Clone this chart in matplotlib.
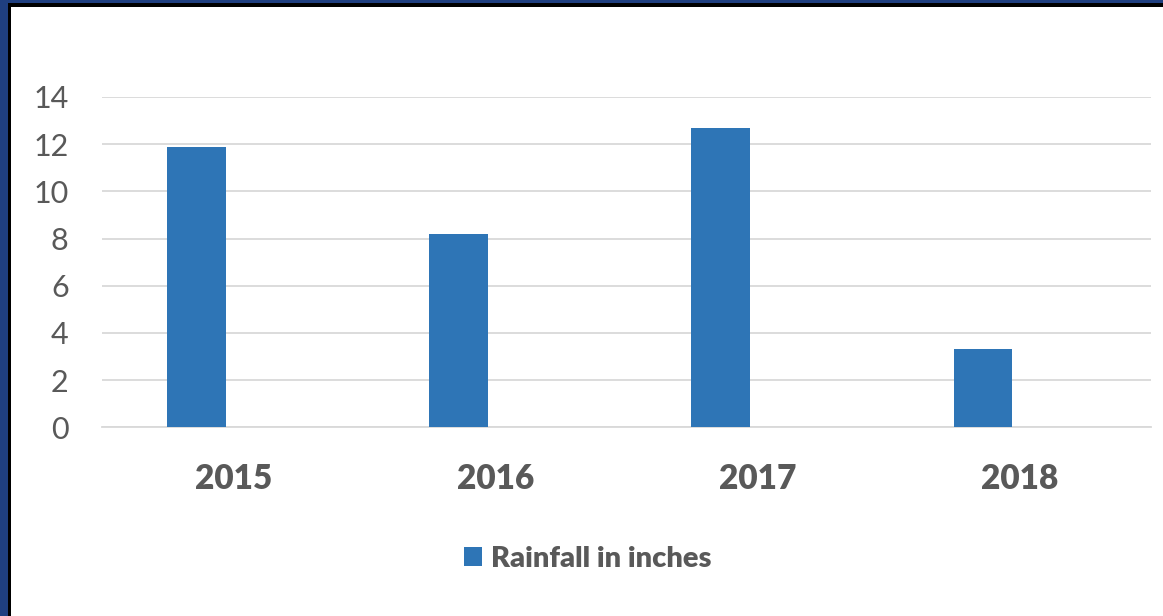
import numpy as np
import matplotlib
matplotlib.use("Agg")
import matplotlib.pyplot as plt
from matplotlib.patches import Rectangle, Patch

# Data
years = ['2015', '2016', '2017', '2018']
rainfall = [11.9, 8.2, 12.7, 3.3]
series_name = 'Rainfall in inches'
y_ticks = [0, 2, 4, 6, 8, 10, 12, 14]

# Style
bar_color = '#2E75B6'
grid_color = '#D9D9D9'
text_color = '#595959'
bar_width = 0.224
bar_offset = -0.141

plt.rcParams['font.family'] = ['Lato', 'DejaVu Sans']

fig = plt.figure(figsize=(11.63, 6.16), dpi=100)
fig.patch.set_facecolor('white')

# dark frame on the left and top edges
fig.patches.append(Rectangle((0, 0), 8 / 1163, 1, transform=fig.transFigure,
                             facecolor='#1F3F80', edgecolor='none', zorder=0))
fig.patches.append(Rectangle((0, 1 - 3 / 616), 1, 3 / 616, transform=fig.transFigure,
                             facecolor='#1F3F80', edgecolor='none', zorder=0))
fig.patches.append(Rectangle((8 / 1163, 0), 3 / 1163, 1 - 3 / 616, transform=fig.transFigure,
                             facecolor='black', edgecolor='none', zorder=0))
fig.patches.append(Rectangle((8 / 1163, 1 - 7 / 616), 1 - 8 / 1163, 4 / 616, transform=fig.transFigure,
                             facecolor='black', edgecolor='none', zorder=0))

ax = fig.add_axes([102 / 1163, (616 - 427.3) / 616, (1151 - 102) / 1163, (427.3 - 97) / 616])

x = np.arange(len(years))
ax.bar(x + bar_offset, rainfall, width=bar_width, color=bar_color, zorder=3)

ax.set_xlim(-0.5, len(years) - 0.5)
ax.set_ylim(0, 14)
ax.set_yticks(y_ticks)
ax.set_yticklabels([str(t) for t in y_ticks], fontsize=22, color=text_color)
ax.set_xticks(x)
ax.set_xticklabels(years, fontsize=24, fontweight='heavy', color=text_color)
ax.tick_params(axis='y', length=0, pad=24)
ax.tick_params(axis='x', length=0, pad=26)

ax.grid(axis='y', color=grid_color, linewidth=1.3, zorder=0)
for side in ['left', 'right', 'top']:
    ax.spines[side].set_visible(False)
ax.spines['bottom'].set_color(grid_color)
ax.spines['bottom'].set_linewidth(1.3)

handle = Patch(facecolor=bar_color, edgecolor='none')
leg = fig.legend([handle], [series_name], loc='center',
                 bbox_to_anchor=(588 / 1163, 1 - 559 / 616),
                 frameon=False, handlelength=0.62, handleheight=0.62,
                 handletextpad=0.3, prop={'size': 21, 'weight': 'heavy'})
for t in leg.get_texts():
    t.set_color(text_color)

fig.savefig('out.png', dpi=100, facecolor='white')
